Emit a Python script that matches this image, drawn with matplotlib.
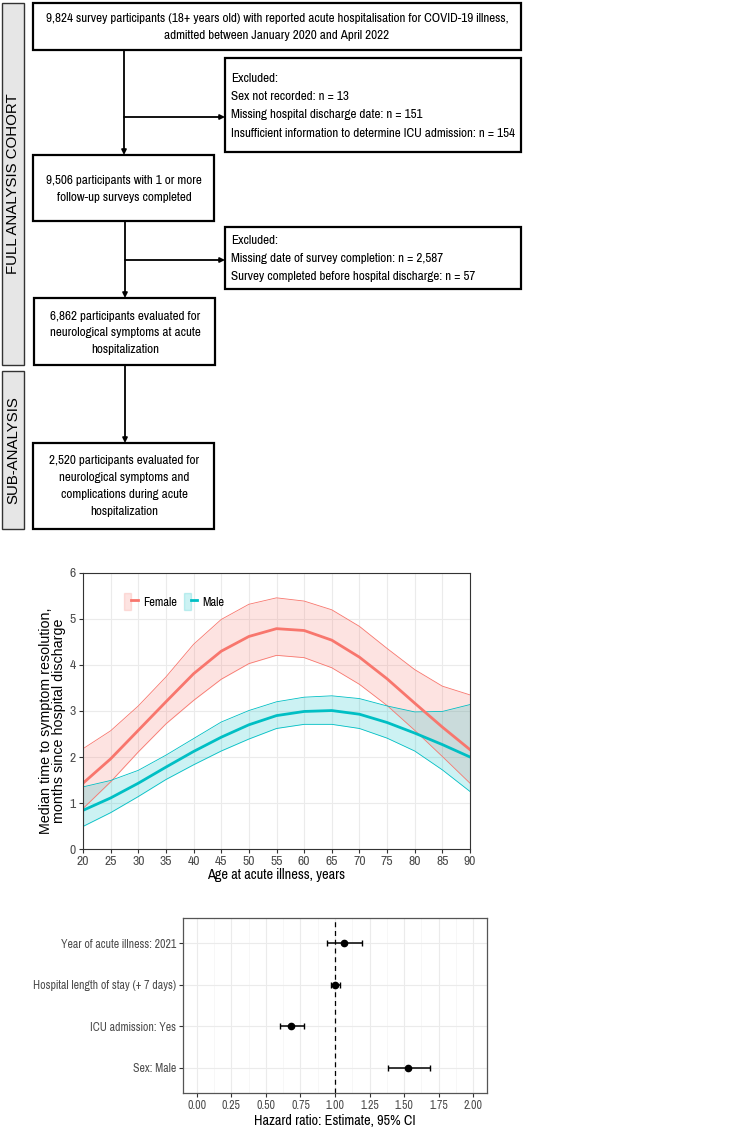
import matplotlib
matplotlib.use('Agg')
import matplotlib.pyplot as plt
from matplotlib.patches import Rectangle, Patch
from matplotlib.lines import Line2D
from matplotlib.legend_handler import HandlerTuple
import numpy as np

# narrow face preferred (the reference text is condensed), plain sans as last resort
NARROW = ['Pragati Narrow', 'Sofia Sans Condensed', 'Archivo Narrow', 'Liberation Sans']
ARIAL = ['Liberation Sans', 'DejaVu Sans']
plt.rcParams['font.family'] = ARIAL

# ---- data: curve plot ----
age = [20, 25, 30, 35, 40, 45, 50, 55, 60, 65, 70, 75, 80, 85, 90]
female_med = [1.43, 1.96, 2.58, 3.20, 3.81, 4.30, 4.62, 4.79, 4.75, 4.54, 4.17, 3.70, 3.17, 2.65, 2.16]
female_hi = [2.18, 2.57, 3.11, 3.74, 4.45, 4.99, 5.32, 5.46, 5.39, 5.20, 4.84, 4.36, 3.90, 3.54, 3.35]
female_lo = [0.88, 1.46, 2.11, 2.72, 3.23, 3.69, 4.03, 4.21, 4.16, 3.94, 3.58, 3.12, 2.58, 2.01, 1.43]
male_med = [0.84, 1.11, 1.43, 1.78, 2.12, 2.43, 2.70, 2.90, 2.99, 3.01, 2.93, 2.75, 2.52, 2.27, 2.00]
male_hi = [1.35, 1.49, 1.71, 2.04, 2.40, 2.76, 3.01, 3.20, 3.30, 3.33, 3.27, 3.11, 2.98, 2.99, 3.14]
male_lo = [0.49, 0.79, 1.14, 1.51, 1.83, 2.13, 2.39, 2.62, 2.71, 2.71, 2.62, 2.41, 2.13, 1.72, 1.25]

# ---- data: forest plot (bottom to top) ----
terms = ['Sex: Male', 'ICU admission: Yes', 'Hospital length of stay (+ 7 days)', 'Year of acute illness: 2021']
hr_est = [1.527, 0.684, 1.00, 1.063]
hr_lo = [1.382, 0.599, 0.973, 0.942]
hr_hi = [1.691, 0.778, 1.034, 1.196]

# ---- flowchart text ----
box_main = "9,824 survey participants (18+ years old) with reported acute hospitalisation for COVID-19 illness,\nadmitted between January 2020 and April 2022"
excl1 = ["Excluded:", "Sex not recorded: n = 13", "Missing hospital discharge date: n = 151",
         "Insufficient information to determine ICU admission: n = 154"]
box2 = "9,506 participants with 1 or more\nfollow-up surveys completed"
excl2 = ["Excluded:", "Missing date of survey completion: n = 2,587",
         "Survey completed before hospital discharge: n = 57"]
box3 = "6,862 participants evaluated for\nneurological symptoms at acute\nhospitalization"
box4 = "2,520 participants evaluated for\nneurological symptoms and\ncomplications during acute\nhospitalization"

W, H = 753, 1130
fig = plt.figure(figsize=(W / 100, H / 100), dpi=100)
renderer = fig.canvas.get_renderer()


def fit_size(s, family, target_px, base=10.0):
    # font size that makes string s about target_px wide
    t = fig.text(0, 0, s, fontsize=base, family=family)
    w = t.get_window_extent(renderer).width
    t.remove()
    return base * target_px / w


FS_BOX = fit_size(excl1[3], NARROW, 286)
FS_TICK = fit_size(terms[2], NARROW, 142)
FS_TITLE = fit_size('Hazard ratio: Estimate, 95% CI', NARROW, 162)

# flowchart drawn in pixel coordinates
fc = fig.add_axes([0, 0, 1, 1])
fc.set_xlim(0, W)
fc.set_ylim(H, 0)
fc.axis('off')


def box(x0, y0, x1, y1, lw=1.6, fc_='white', ec='black'):
    fc.add_patch(Rectangle((x0, y0), x1 - x0, y1 - y0, facecolor=fc_, edgecolor=ec, lw=lw))


def arrow(x0, y0, x1, y1):
    fc.annotate('', xy=(x1, y1), xytext=(x0, y0),
                arrowprops=dict(arrowstyle='-|>', color='black', lw=1.3,
                                mutation_scale=7, shrinkA=0, shrinkB=0))


# side labels
box(2, 3, 24, 365, lw=1.0, fc_='#E6E6E6', ec='#333333')
box(2, 371, 24, 529, lw=1.0, fc_='#E6E6E6', ec='#333333')
fc.text(13, 184, 'FULL ANALYSIS COHORT', rotation=90, ha='center', va='center', fontsize=10.8)
fc.text(13, 450, 'SUB-ANALYSIS', rotation=90, ha='center', va='center', fontsize=10.8)

box(33, 3, 521, 50)
fc.text(277, 27, box_main, ha='center', va='center', fontsize=FS_BOX, family=NARROW, linespacing=1.65)

box(225, 58, 521, 152)
for i, s in enumerate(excl1):
    fc.text(231, 78 + i * 18.5, s, ha='left', va='center', fontsize=FS_BOX, family=NARROW)

box(33, 155, 214, 221)
fc.text(124, 189, box2, ha='center', va='center', fontsize=FS_BOX, family=NARROW, linespacing=1.65)

box(225, 227, 521, 289)
for i, s in enumerate(excl2):
    fc.text(231, 240 + i * 18.5, s, ha='left', va='center', fontsize=FS_BOX, family=NARROW)

box(34, 298, 215, 365)
fc.text(125, 333, box3, ha='center', va='center', fontsize=FS_BOX, family=NARROW, linespacing=1.65)

box(33, 443, 214, 529)
fc.text(124, 486, box4, ha='center', va='center', fontsize=FS_BOX, family=NARROW, linespacing=1.65)

arrow(124, 50, 124, 155)
arrow(124, 117, 225, 117)
arrow(125, 221, 125, 298)
arrow(125, 260, 225, 260)
arrow(125, 365, 125, 443)

# ---- curve plot ----
red = '#F8766D'
teal = '#00BFC4'
ax = fig.add_axes([83 / W, 1 - 849 / H, 387 / W, 276 / H])
ax.fill_between(age, female_lo, female_hi, color=red, alpha=0.2, lw=0)
ax.plot(age, female_lo, color=red, lw=0.6)
ax.plot(age, female_hi, color=red, lw=0.6)
ax.fill_between(age, male_lo, male_hi, color=teal, alpha=0.2, lw=0)
ax.plot(age, male_lo, color=teal, lw=0.6)
ax.plot(age, male_hi, color=teal, lw=0.6)
ax.plot(age, female_med, color=red, lw=2)
ax.plot(age, male_med, color=teal, lw=2)
ax.set_xlim(20, 90)
ax.set_ylim(0, 6)
ax.set_xticks(range(20, 91, 5))
ax.set_yticks(range(0, 7))
ax.grid(color='#EBEBEB', lw=0.8)
ax.set_axisbelow(True)
for sp in ax.spines.values():
    sp.set_color('#333333')
    sp.set_linewidth(0.8)
ax.tick_params(color='#333333', labelcolor='#4D4D4D', labelsize=FS_TICK * 1.15, length=3, pad=2)
for lab in ax.get_xticklabels() + ax.get_yticklabels():
    lab.set_family(NARROW)
ax.set_xlabel('Age at acute illness, years', fontsize=FS_TITLE, family=NARROW, labelpad=1)
ax.set_ylabel('Median time to symptom resolution,\nmonths since hospital discharge', fontsize=10.3,
              linespacing=0.9, va='center')
ax.yaxis.set_label_coords(-0.078, 0.465)

h_f = (Patch(facecolor=red, alpha=0.2, edgecolor=red), Line2D([], [], color=red, lw=2))
h_m = (Patch(facecolor=teal, alpha=0.2, edgecolor=teal), Line2D([], [], color=teal, lw=2))
leg = ax.legend([h_f, h_m], ['Female', 'Male'], handler_map={tuple: HandlerTuple(ndivide=None, pad=0)},
                loc='upper left', bbox_to_anchor=(0.075, 0.97), ncol=2, frameon=False,
                handlelength=1.0, handleheight=1.5, columnspacing=0.5, handletextpad=0.4,
                prop={'family': NARROW, 'size': FS_TICK * 1.05})

# ---- forest plot ----
fx = fig.add_axes([183 / W, 1 - 1093 / H, 304 / W, 175 / H])
ypos = np.arange(1, len(terms) + 1)
fx.axvline(1.0, color='black', ls=(0, (4, 3)), lw=0.9)
err = [np.array(hr_est) - np.array(hr_lo), np.array(hr_hi) - np.array(hr_est)]
fx.errorbar(hr_est, ypos, xerr=err, fmt='o', color='black', ms=4.5, capsize=2.5, elinewidth=1.1, capthick=1.0)
fx.set_xlim(-0.1, 2.1)
fx.set_ylim(0.4, 4.6)
fx.set_xticks(np.arange(0, 2.01, 0.25))
fx.set_xticklabels(['%.2f' % v for v in np.arange(0, 2.01, 0.25)])
fx.set_xticks(np.arange(0.125, 2.0, 0.25), minor=True)
fx.set_yticks(ypos)
fx.set_yticklabels(terms)
fx.grid(which='major', color='#EBEBEB', lw=0.8)
fx.grid(which='minor', axis='x', color='#F4F4F4', lw=0.5)
fx.tick_params(which='minor', length=0)
fx.set_axisbelow(True)
for sp in fx.spines.values():
    sp.set_color('#555555')
    sp.set_linewidth(0.9)
fx.tick_params(color='#333333', labelcolor='#4D4D4D', labelsize=FS_TICK, length=3, pad=2)
for lab in fx.get_xticklabels() + fx.get_yticklabels():
    lab.set_family(NARROW)
fx.set_xlabel('Hazard ratio: Estimate, 95% CI', fontsize=FS_TITLE, family=NARROW, labelpad=2)

fig.savefig('out.png', dpi=100)
